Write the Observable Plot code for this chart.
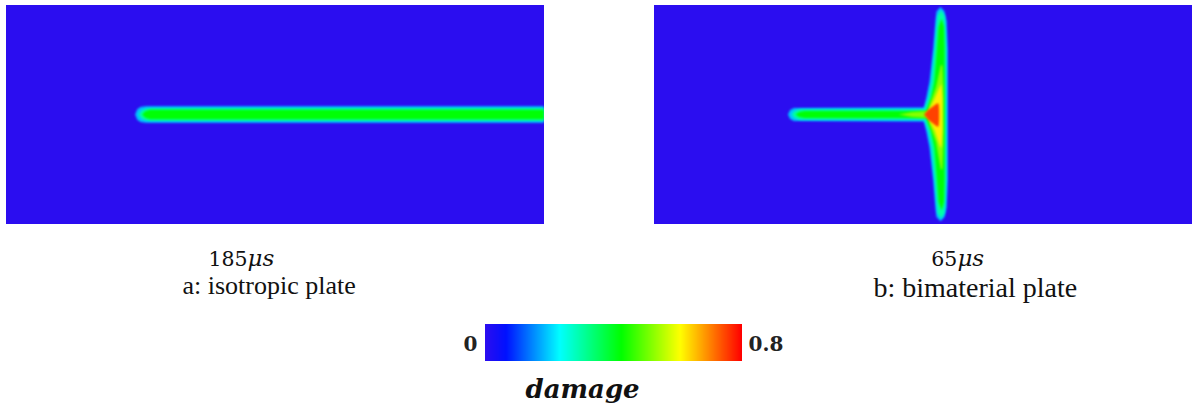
<!DOCTYPE html>
<html>
<head>
<meta charset="utf-8">
<script src="https://cdn.jsdelivr.net/npm/d3@7"></script>
<script src="https://cdn.jsdelivr.net/npm/@observablehq/plot@0.6"></script>
<style>
  html, body { margin: 0; padding: 0; background: #fff; }
  #chart { position: relative; width: 1194px; height: 410px; overflow: hidden; background: #fff; }
  #chart > svg { position: absolute; left: 0; top: 0; }
  #ramp { position: absolute; left: 485px; top: 324px; line-height: 0; }
</style>
</head>
<body>
<div id="chart"><div id="ramp"></div></div>
<script>
// ---------------- data ----------------
const panels = ["a", "b"];
const timeValues = ["185", "65"];
const timeUnit = "μs";
const captions = ["a: isotropic plate", "b: bimaterial plate"];
const colorbarTitle = "damage";
const plateU = [0, 100];      // plate length (mm)
const plateV = [-20, 20];     // plate height (mm)
const damageRange = [0, 0.8];
const damageLevels = [0.19, 0.3, 0.42, 0.52, 0.62, 0.75];

// horizontal crack damage bands (position along crack, half width)
const hBandPanel = ["a", "a", "a", "b", "b", "b", "b"];
const hBandLevel = [0, 1, 2, 0, 1, 2, 3];
const hBandAlong = [
  [24.0, 24.4, 25.0, 26.0, 100],
  [24.7, 25.2, 26.0, 27.0, 100],
  [25.3, 25.9, 26.8, 100],
  [24.9, 25.3, 26.0, 51.0],
  [25.6, 26.1, 27.0, 51.0],
  [26.3, 27.0, 28.0, 51.0],
  [45.5, 48.0, 51.0]
];
const hBandHalf = [
  [0, 0.95, 1.35, 1.52, 1.52],
  [0, 0.75, 1.05, 1.15, 1.15],
  [0, 0.6, 0.85, 0.85],
  [0, 0.8, 1.2, 1.3],
  [0, 0.6, 0.9, 0.95],
  [0, 0.45, 0.62, 0.65],
  [0, 0.45, 0.62]
];

// vertical crack along the bimaterial interface (panel b)
const vBandLevel = [0, 1, 2, 3, 4, 5];
const vBandV = [
  [19.6, 18.8, 17, 12, 6, 3, 1.5, 0, -1.5, -3, -6, -12, -17, -18.7, -19.45],
  [19.0, 18.0, 12, 6, 3, 1.5, 0, -1.5, -3, -6, -12, -18.0, -18.9],
  [17.4, 16.0, 12, 6, 3, 1.5, 0, -1.5, -3, -6, -12, -16.0, -17.4],
  [9, 5, 2, 0, -2, -5, -10],
  [5.5, 3, 1, 0, -1, -3, -6],
  [2.0, 0.8, 0, -1.0, -2.2]
];
const vBandLeft = [
  [53.2, 52.5, 52.3, 51.9, 51.2, 50.6, 50.2, 49.8, 50.2, 50.6, 51.2, 51.9, 52.3, 52.5, 53.2],
  [53.3, 52.7, 52.2, 51.6, 51.0, 50.5, 50.1, 50.5, 51.0, 51.6, 52.2, 52.7, 53.3],
  [53.4, 52.9, 52.6, 52.1, 51.5, 50.9, 50.5, 50.9, 51.5, 52.1, 52.6, 52.9, 53.4],
  [53.3, 52.4, 51.3, 50.8, 51.3, 52.4, 53.3],
  [53.3, 52.2, 51.2, 50.6, 51.2, 52.2, 53.2],
  [52.6, 50.9, 50.2, 51.0, 52.6]
];
const vBandRight = [
  [53.3, 54.0, 54.4, 54.6, 54.6, 54.6, 54.6, 54.6, 54.6, 54.6, 54.6, 54.6, 54.4, 54.0, 53.3],
  [53.4, 54.0, 54.3, 54.3, 54.3, 54.3, 54.3, 54.3, 54.3, 54.3, 54.3, 54.0, 53.4],
  [53.5, 53.9, 54.0, 54.0, 54.0, 54.0, 54.0, 54.0, 54.0, 54.0, 54.0, 53.9, 53.5],
  [53.6, 53.8, 53.8, 53.8, 53.8, 53.8, 53.6],
  [53.4, 53.6, 53.6, 53.6, 53.6, 53.6, 53.4],
  [52.9, 53.0, 53.0, 53.0, 52.9]
];

// colour bar stops (fraction of range, colour)
const stopT = [0, 0.08, 0.29, 0.53, 0.76, 1];
const stopC = ["#2b0df0", "#0010ff", "#00ffff", "#00ff00", "#ffff00", "#ff0000"];

// ---------------- layout constants ----------------
const timeAnchorU = {a: 44.8, b: 56.3};
const captionAnchorU = {a: 32.7, b: 40.7};
const captionSize = {a: 26, b: 28};
const captionDy = {a: 69, b: 72};

// ---------------- build ----------------
const stopScale = d3.scaleLinear().domain(stopT).range(stopC).interpolate(d3.interpolateRgb).clamp(true);
const jet = (t) => stopScale(t);

const plates = panels.map((p) => ({panel: p, u0: plateU[0], u1: plateU[1], v0: plateV[0], v1: plateV[1], damage: damageRange[0]}));

const hRows = [];
hBandAlong.forEach((us, i) => us.forEach((u, j) => hRows.push({
  panel: hBandPanel[i], band: "h" + i, level: hBandLevel[i], damage: damageLevels[hBandLevel[i]],
  u, lo: -hBandHalf[i][j], hi: hBandHalf[i][j]
})));
const vRows = [];
vBandV.forEach((vs, i) => vs.forEach((v, j) => vRows.push({
  panel: "b", band: "v" + i, level: vBandLevel[i], damage: damageLevels[vBandLevel[i]],
  v, left: vBandLeft[i][j], right: vBandRight[i][j]
})));

const timeRows = panels.map((p, i) => ({panel: p, value: timeValues[i]}));
const captionRows = panels.map((p, i) => ({panel: p, value: captions[i]}));

const crackStyle = {fx: "panel", z: "band", fill: "damage", clip: true, curve: "linear", imageFilter: "blur(0.9px)"};
const crackMarks = [];
damageLevels.forEach((_, L) => {
  crackMarks.push(Plot.areaY(hRows.filter((d) => d.level === L), {...crackStyle, x: "u", y1: "lo", y2: "hi"}));
  crackMarks.push(Plot.areaX(vRows.filter((d) => d.level === L), {...crackStyle, y: "v", x1: "left", x2: "right"}));
});

const serif = "'Liberation Serif', 'Times New Roman', serif";
const mathSerif = "'DejaVu Serif', serif";

const captionMarks = panels.map((p) => Plot.text(captionRows.filter((d) => d.panel === p), {
  fx: "panel", x: (d) => captionAnchorU[d.panel], frameAnchor: "bottom", dy: captionDy[p],
  text: "value", textAnchor: "start", lineAnchor: "bottom", fontFamily: serif, fontSize: captionSize[p], fill: "#111"
}));

const chart = Plot.plot({
  width: 1194,
  height: 410,
  marginTop: 5,
  marginBottom: 186,
  marginLeft: 6,
  marginRight: 2,
  style: {background: "transparent", overflow: "visible"},
  fx: {domain: panels, paddingInner: 0.1698, paddingOuter: 0, axis: null, label: null},
  x: {domain: plateU, axis: null},
  y: {domain: plateV, axis: null},
  color: {type: "linear", domain: damageRange, interpolate: jet},
  marks: [
    Plot.rect(plates, {fx: "panel", x1: "u0", x2: "u1", y1: "v0", y2: "v1", fill: "damage"}),
    ...crackMarks,
    Plot.text(timeRows, {fx: "panel", x: (d) => timeAnchorU[d.panel], frameAnchor: "bottom", dy: 41,
      text: "value", textAnchor: "end", lineAnchor: "bottom", fontFamily: mathSerif, fontSize: 20.5, fill: "#111"}),
    Plot.text(timeRows, {fx: "panel", x: (d) => timeAnchorU[d.panel], frameAnchor: "bottom", dy: 41,
      text: () => timeUnit, textAnchor: "start", lineAnchor: "bottom", fontFamily: mathSerif, fontStyle: "italic", fontSize: 23, fill: "#111"}),
    ...captionMarks,
    Plot.text([{panel: "a"}], {fx: "panel", frameAnchor: "bottom-left", dx: 471, dy: 126,
      text: () => String(damageRange[0]), textAnchor: "end", lineAnchor: "bottom", fontFamily: mathSerif, fontWeight: "bold", fontSize: 20, fill: "#222"}),
    Plot.text([{panel: "a"}], {fx: "panel", frameAnchor: "bottom-left", dx: 742, dy: 126,
      text: () => String(damageRange[1]), textAnchor: "start", lineAnchor: "bottom", fontFamily: mathSerif, fontWeight: "bold", fontSize: 20, fill: "#222"}),
    Plot.text([{panel: "a"}], {fx: "panel", frameAnchor: "bottom-left", dx: 519, dy: 173,
      text: () => colorbarTitle, textAnchor: "start", lineAnchor: "bottom", fontFamily: mathSerif, fontWeight: "bold", fontStyle: "italic", fontSize: 26, fill: "#111"})
  ]
});
const host = document.getElementById("chart");
host.insertBefore(chart, host.firstChild);

const ramp = Plot.legend({
  color: {type: "linear", domain: damageRange, interpolate: jet},
  width: 257, height: 37,
  marginTop: 0, marginRight: 0, marginBottom: 0, marginLeft: 0,
  ticks: [], tickSize: 0, label: null
});
document.getElementById("ramp").appendChild(ramp);
</script>
</body>
</html>
